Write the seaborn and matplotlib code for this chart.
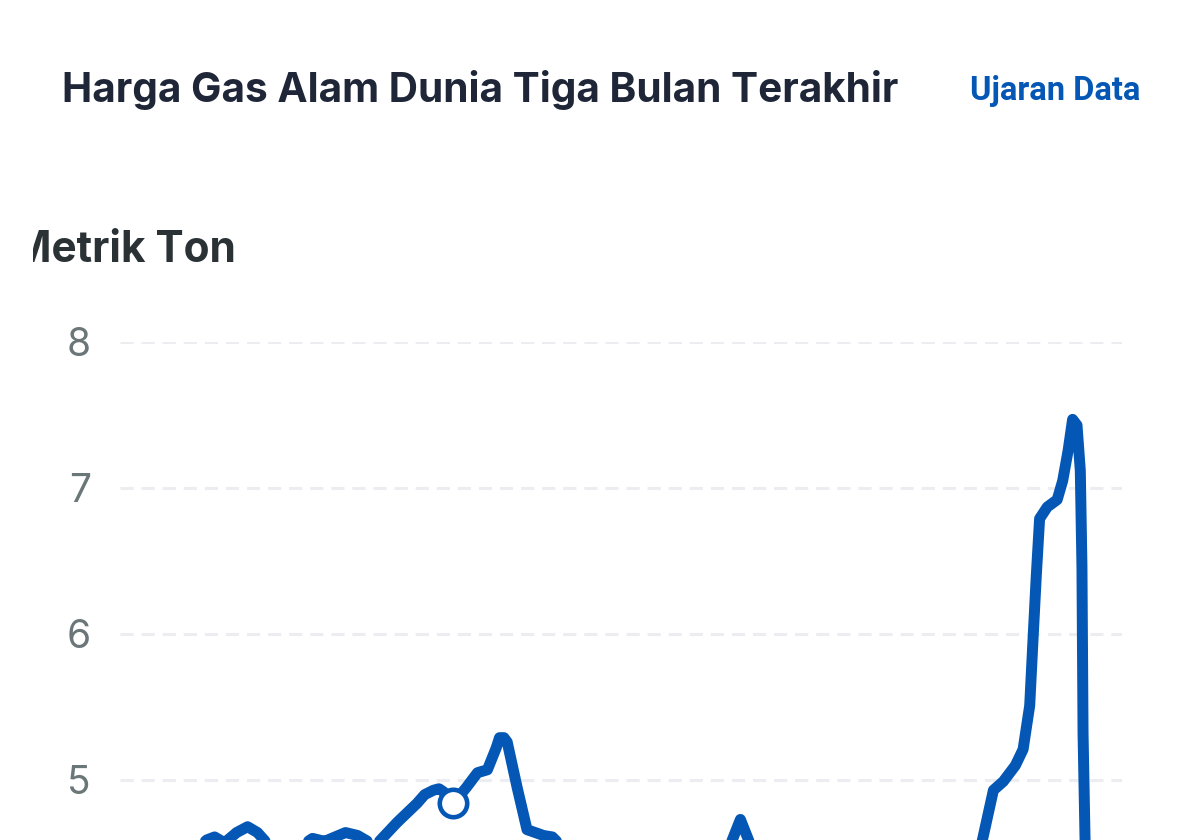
import matplotlib
matplotlib.use("Agg")
import matplotlib.pyplot as plt
import seaborn as sns
import pandas as pd
from matplotlib.transforms import Bbox, TransformedBbox

# ---- data ----
days = [0.9, 3.6, 6.4, 7.9, 8.6, 9.5, 10.6, 11.6, 12.5, 13.8, 15.5, 17.5, 18.6,
        20.5, 21.6, 23.2, 25.2, 27.0, 27.7, 28.5, 29.0, 29.4, 30.3, 31.5, 32.5, 33.4,
        34.2, 34.5, 34.9, 35.2, 36.1, 37.0, 38.5, 39.3, 40.5, 43.6, 48.2, 52.7, 55.3,
        56.4, 57.5, 60.9, 66.4, 70.9, 75.5, 78.2, 79.4, 80.3, 81.4, 82.1, 82.7, 83.0,
        83.3, 83.6, 84.3, 85.2, 85.7, 86.2, 86.6, 87.0, 87.3, 87.45, 87.55, 87.75, 88.2]
prices = [4.45, 4.40, 4.50, 4.59, 4.61, 4.57, 4.64, 4.68, 4.64, 4.53, 4.50, 4.60, 4.58,
          4.64, 4.62, 4.55, 4.71, 4.84, 4.90, 4.93, 4.94, 4.92, 4.84, 4.95, 5.05, 5.07,
          5.22, 5.29, 5.29, 5.26, 4.95, 4.66, 4.62, 4.61, 4.52, 4.40, 4.35, 4.40, 4.52,
          4.73, 4.52, 4.35, 4.30, 4.35, 4.40, 4.52, 4.93, 4.99, 5.10, 5.21, 5.51, 5.96,
          6.40, 6.79, 6.87, 6.92, 7.05, 7.26, 7.47, 7.43, 7.12, 6.46, 5.32, 4.52, 4.30]
highlight_day = [30.3]
highlight_price = [4.84]
y_ticks = [5, 6, 7, 8]

title = "Harga Gas Alam Dunia Tiga Bulan Terakhir"
brand = "Ujaran Data"
unit_label = "Metrik Ton"

BLUE = "#0457b5"
W, H = 1200, 840

df = pd.DataFrame({"hari": days, "harga": prices})
hl = pd.DataFrame({"hari": highlight_day, "harga": highlight_price})

sns.set_theme(style="white")
plt.rcParams["font.family"] = ["Inter", "DejaVu Sans"]

fig = plt.figure(figsize=(W / 100, H / 100), dpi=100)
fig.patch.set_facecolor("white")

ax = fig.add_axes([120 / W, 0, (1122 - 120) / W, 1 - 342 / H])
ax.set_xlim(0, 1002 / 11)
ax.set_ylim(5 - 60 / 146, 8)

sns.lineplot(data=df, x="hari", y="harga", ax=ax, color=BLUE, linewidth=7.9,
             solid_joinstyle="round", solid_capstyle="round", sort=False, zorder=3)
sns.scatterplot(data=hl, x="hari", y="harga", ax=ax, s=390, color="white",
                edgecolor=BLUE, linewidth=3.3, zorder=4)

ax.set_yticks(y_ticks)
ax.set_yticklabels([str(v) for v in y_ticks])
ax.set_xticks([])
ax.grid(axis="y", color="#ececf1", linewidth=2.2, linestyle=(0, (4.3, 2.6)))
ax.grid(axis="x", visible=False)
ax.tick_params(axis="y", length=0, pad=21, labelsize=28, labelcolor="#6b7678")
for sp in ax.spines.values():
    sp.set_visible(False)
ax.set_xlabel("")
ax.set_ylabel("")
ax.set_facecolor("white")

fig.text(62 / W, 1 - 102 / H, title, fontsize=29.2, fontweight="bold",
         color="#1e2638", ha="left", va="baseline")
fig.text(1140 / W, 1 - 100 / H, brand, fontsize=23.5, fontweight="bold",
         color=BLUE, ha="right", va="baseline", family=["Roboto", "DejaVu Sans"])

t = fig.text(236 / W, 1 - 262 / H, unit_label, fontsize=30.5, fontweight="bold",
             color="#2a3236", ha="right", va="baseline")
clip = TransformedBbox(Bbox([[33 / W, 0], [1, 1]]), fig.transFigure)
t.set_clip_box(clip)
t.set_clip_on(True)

fig.savefig("out.png", dpi=100, facecolor="white")
